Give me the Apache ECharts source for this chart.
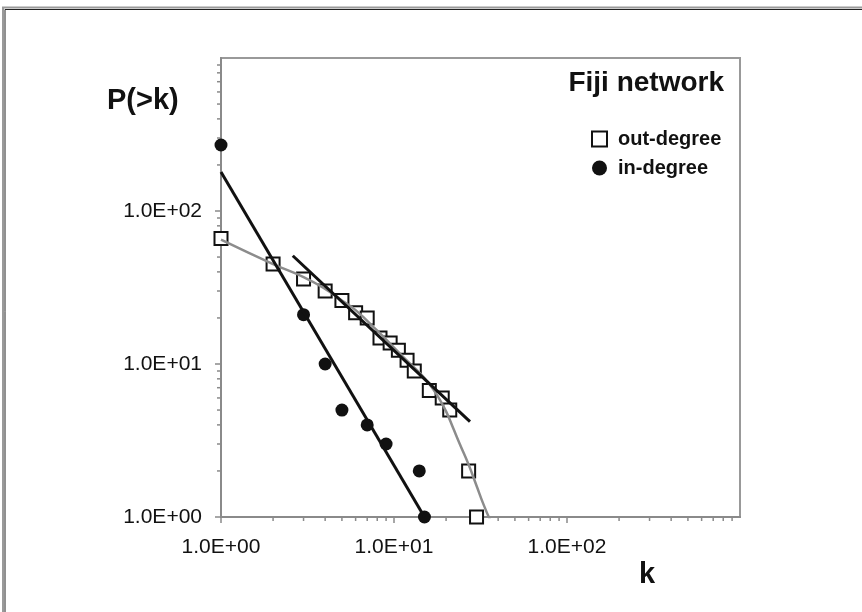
<!DOCTYPE html>
<html>
<head>
<meta charset="utf-8">
<style>
  html, body { margin: 0; padding: 0; background: #fff; }
  #chart { width: 862px; height: 612px; }
</style>
<script src="https://cdn.jsdelivr.net/npm/echarts@6/dist/echarts.min.js"></script>
</head>
<body>
<div id="chart"></div>
<script>
// out-degree (open squares)
const outK = [1, 2, 3, 4, 5, 6, 7, 8.3, 9.5, 10.6, 11.9, 13.1, 16, 19, 21, 27, 30]
const outP = [66, 45, 36, 30, 26, 21.6, 20, 14.8, 13.7, 12.3, 10.6, 9.0, 6.7, 6.0, 5.0, 2.0, 1]

// in-degree (filled circles)
const inK = [1, 3, 4, 5, 7, 9, 14, 15]
const inP = [270, 21, 10, 5, 4, 3, 2, 1]

// fitted lines
const inFitK = [1, 15]
const inFitP = [180, 1]
const outFitK = [2.6, 27.5]
const outFitP = [51, 4.2]
const curveK = [1, 2, 3, 4, 5, 6, 8, 10, 12, 14, 16, 18, 20, 22, 24, 27, 30, 33, 36]
const curveP = [65, 45, 37, 31, 26, 22.5, 16.5, 12.8, 10.4, 8.8, 7.4, 6.1, 4.9, 3.8, 3.0, 2.2, 1.6, 1.2, 0.95]

const xTickLabels = { 1: '1.0E+00', 10: '1.0E+01', 100: '1.0E+02' }
const yTickLabels = { 1: '1.0E+00', 10: '1.0E+01', 100: '1.0E+02' }

const minorVals = []
;[1, 10, 100].forEach(d => {
  for (let i = 2; i <= 9; i++) minorVals.push(d * i)
})

const pairs = (xs, ys) => xs.map((x, i) => [x, ys[i]])
const fmt = map => v => map[Math.round(v)] || ''

const axisGray = '#8a8a8a'
const labelFont = { fontFamily: 'Liberation Sans, Arial', fontSize: 21, color: '#111' }

const chart = echarts.init(document.getElementById('chart'))

chart.setOption({
  animation: false,
  title: {
    text: 'Fiji network',
    right: 133,
    top: 64,
    textStyle: { fontFamily: 'Liberation Sans, Arial', fontSize: 28, fontWeight: 'bold', color: '#111' }
  },
  legend: {
    data: [{ name: 'out-degree' }, { name: 'in-degree' }],
    orient: 'vertical',
    left: 586,
    top: 124,
    itemWidth: 15,
    itemHeight: 15,
    itemGap: 9,
    textStyle: { fontFamily: 'Liberation Sans, Arial', fontSize: 20, fontWeight: 'bold', color: '#111', padding: [0, 0, 0, 6] }
  },
  grid: {
    left: 221, right: 122, top: 58, bottom: 95,
    show: true, borderColor: '#999', borderWidth: 2, backgroundColor: 'transparent'
  },
  xAxis: {
    type: 'log', logBase: 10, min: 1, max: 1000,
    axisLine: { lineStyle: { color: axisGray, width: 2 } },
    axisTick: { length: 6, lineStyle: { color: axisGray, width: 1.5 } },
    splitLine: { show: false },
    axisLabel: { ...labelFont, margin: 20, formatter: fmt(xTickLabels), showMaxLabel: false }
  },
  yAxis: {
    type: 'log', logBase: 10, min: 1, max: 1000,
    axisLine: { show: true, lineStyle: { color: axisGray, width: 2 } },
    axisTick: { show: true, length: 6, lineStyle: { color: axisGray, width: 1.5 } },
    splitLine: { show: false },
    axisLabel: { ...labelFont, margin: 19, formatter: fmt(yTickLabels), showMaxLabel: false }
  },
  graphic: [
    { type: 'rect', shape: { x: 3, y: 7.5, width: 900, height: 700 }, style: { fill: 'none', stroke: '#9a9a9a', lineWidth: 2 }, silent: true },
    { type: 'rect', shape: { x: 5, y: 9.5, width: 900, height: 700 }, style: { fill: 'none', stroke: '#222', lineWidth: 1 }, silent: true },
    { type: 'text', left: 107, top: 86, style: { text: 'P(>k)', font: 'bold 29px Liberation Sans, Arial', fill: '#111' } },
    { type: 'text', left: 639, top: 560, style: { text: 'k', font: 'bold 29px Liberation Sans, Arial', fill: '#111' } }
  ],
  series: [
    {
      type: 'custom', silent: true, z: 1,
      data: minorVals.map(v => [v, 1]),
      renderItem: (params, api) => {
        const p = api.coord([api.value(0), api.value(1)])
        return { type: 'line', shape: { x1: p[0], y1: p[1], x2: p[0], y2: p[1] + 4 }, style: { stroke: axisGray, lineWidth: 1.5 } }
      }
    },
    {
      type: 'custom', silent: true, z: 1,
      data: minorVals.map(v => [1, v]),
      renderItem: (params, api) => {
        const p = api.coord([api.value(0), api.value(1)])
        return { type: 'line', shape: { x1: p[0] - 4, y1: p[1], x2: p[0], y2: p[1] }, style: { stroke: axisGray, lineWidth: 1.5 } }
      }
    },
    {
      name: 'out-degree', type: 'scatter', symbol: 'rect', symbolSize: 13,
      itemStyle: { color: '#fff', borderColor: '#111', borderWidth: 2, opacity: 1 },
      data: pairs(outK, outP), z: 2
    },
    {
      name: 'in-degree', type: 'scatter', symbol: 'circle', symbolSize: 13,
      itemStyle: { color: '#111', opacity: 1 },
      data: pairs(inK, inP), z: 2
    },
    {
      name: 'curve', type: 'line', smooth: true, showSymbol: false, symbol: 'none',
      lineStyle: { color: '#8c8c8c', width: 2.5 },
      data: pairs(curveK, curveP), z: 3
    },
    {
      name: 'in fit', type: 'line', showSymbol: false, symbol: 'none',
      lineStyle: { color: '#111', width: 3 },
      data: pairs(inFitK, inFitP), z: 3
    },
    {
      name: 'out fit', type: 'line', showSymbol: false, symbol: 'none',
      lineStyle: { color: '#111', width: 3 },
      data: pairs(outFitK, outFitP), z: 3
    }
  ]
})
</script>
</body>
</html>
